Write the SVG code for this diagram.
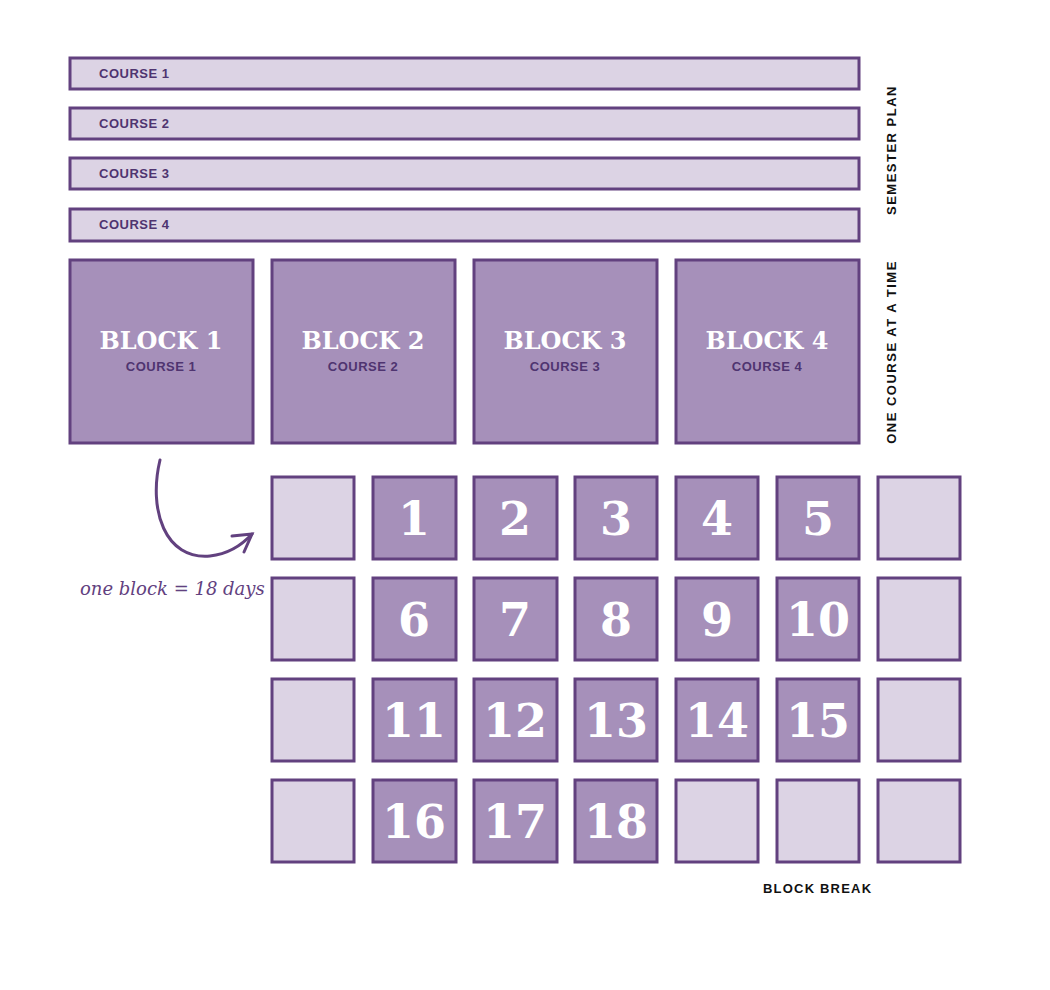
<svg xmlns="http://www.w3.org/2000/svg" width="1050" height="990" viewBox="0 0 1050 990">
<style>
.bar{fill:#dcd3e4;stroke:#62417f;stroke-width:3}
.blk{fill:#a690ba;stroke:#62417f;stroke-width:3}
.ct{font-family:"Liberation Sans",Arial,sans-serif;font-weight:bold;font-size:13px;fill:#4f3470;letter-spacing:0.5px}
.bt{font-family:"DejaVu Serif","Liberation Serif",serif;font-weight:bold;font-size:24px;fill:#fff;text-anchor:middle}
.bc{font-family:"Liberation Sans",Arial,sans-serif;font-weight:bold;font-size:13px;fill:#4f3470;text-anchor:middle;letter-spacing:0.5px}
.num{font-family:"DejaVu Serif","Liberation Serif",serif;font-weight:bold;font-size:46px;fill:#fff;text-anchor:middle}
.side{font-family:"Liberation Sans",Arial,sans-serif;font-weight:bold;font-size:13px;fill:#111;letter-spacing:1.5px;text-anchor:middle}
</style>
<rect width="1050" height="990" fill="#fff"/>
<g id="course-bars">
<rect class="bar" x="70" y="58" width="789" height="31"/><text class="ct" x="99" y="78">COURSE 1</text>
<rect class="bar" x="70" y="108" width="789" height="31"/><text class="ct" x="99" y="128">COURSE 2</text>
<rect class="bar" x="70" y="158" width="789" height="31"/><text class="ct" x="99" y="178">COURSE 3</text>
<rect class="bar" x="70" y="209" width="789" height="32"/><text class="ct" x="99" y="229">COURSE 4</text>
</g>
<g id="blocks">
<g id="block1"><rect class="blk" x="70" y="260" width="183" height="183"/><text class="bt" x="161" y="349">BLOCK 1</text><text class="bc" x="161" y="371">COURSE 1</text></g>
<g id="block2"><rect class="blk" x="272" y="260" width="183" height="183"/><text class="bt" x="363" y="349">BLOCK 2</text><text class="bc" x="363" y="371">COURSE 2</text></g>
<g id="block3"><rect class="blk" x="474" y="260" width="183" height="183"/><text class="bt" x="565" y="349">BLOCK 3</text><text class="bc" x="565" y="371">COURSE 3</text></g>
<g id="block4"><rect class="blk" x="676" y="260" width="183" height="183"/><text class="bt" x="767" y="349">BLOCK 4</text><text class="bc" x="767" y="371">COURSE 4</text></g>
</g>
<text class="side" transform="translate(896,150) rotate(-90)">SEMESTER PLAN</text>
<text class="side" transform="translate(896,352) rotate(-90)">ONE COURSE AT A TIME</text>
<g id="grid">
<rect class="bar" x="272" y="477" width="82" height="82"/>
<rect class="blk" x="373" y="477" width="83" height="82"/><text class="num" x="414" y="535">1</text>
<rect class="blk" x="474" y="477" width="83" height="82"/><text class="num" x="515" y="535">2</text>
<rect class="blk" x="575" y="477" width="82" height="82"/><text class="num" x="616" y="535">3</text>
<rect class="blk" x="676" y="477" width="82" height="82"/><text class="num" x="717" y="535">4</text>
<rect class="blk" x="777" y="477" width="82" height="82"/><text class="num" x="818" y="535">5</text>
<rect class="bar" x="878" y="477" width="82" height="82"/>

<rect class="bar" x="272" y="578" width="82" height="82"/>
<rect class="blk" x="373" y="578" width="83" height="82"/><text class="num" x="414" y="636">6</text>
<rect class="blk" x="474" y="578" width="83" height="82"/><text class="num" x="515" y="636">7</text>
<rect class="blk" x="575" y="578" width="82" height="82"/><text class="num" x="616" y="636">8</text>
<rect class="blk" x="676" y="578" width="82" height="82"/><text class="num" x="717" y="636">9</text>
<rect class="blk" x="777" y="578" width="82" height="82"/><text class="num" x="818" y="636">10</text>
<rect class="bar" x="878" y="578" width="82" height="82"/>

<rect class="bar" x="272" y="679" width="82" height="82"/>
<rect class="blk" x="373" y="679" width="83" height="82"/><text class="num" x="414" y="737">11</text>
<rect class="blk" x="474" y="679" width="83" height="82"/><text class="num" x="515" y="737">12</text>
<rect class="blk" x="575" y="679" width="82" height="82"/><text class="num" x="616" y="737">13</text>
<rect class="blk" x="676" y="679" width="82" height="82"/><text class="num" x="717" y="737">14</text>
<rect class="blk" x="777" y="679" width="82" height="82"/><text class="num" x="818" y="737">15</text>
<rect class="bar" x="878" y="679" width="82" height="82"/>

<rect class="bar" x="272" y="780" width="82" height="82"/>
<rect class="blk" x="373" y="780" width="83" height="82"/><text class="num" x="414" y="838">16</text>
<rect class="blk" x="474" y="780" width="83" height="82"/><text class="num" x="515" y="838">17</text>
<rect class="blk" x="575" y="780" width="82" height="82"/><text class="num" x="616" y="838">18</text>
<rect class="bar" x="676" y="780" width="82" height="82"/>
<rect class="bar" x="777" y="780" width="82" height="82"/>
<rect class="bar" x="878" y="780" width="82" height="82"/>
</g>
<text x="763" y="893" font-family="Liberation Sans,Arial,sans-serif" font-weight="bold" font-size="13" fill="#111" letter-spacing="1.2">BLOCK BREAK</text>
<g id="connectors" fill="none" stroke="#62417f" stroke-width="3" stroke-linecap="round">
<path d="M160 460 C148 510,165 560,210 556 C228 554,242 545,252 534"/>
<path d="M232 536 L252 534 L244 552"/>
</g>
<text x="80" y="595" font-family="DejaVu Serif,serif" font-style="italic" font-size="18" fill="#62417f">one block = 18 days</text>
</svg>
